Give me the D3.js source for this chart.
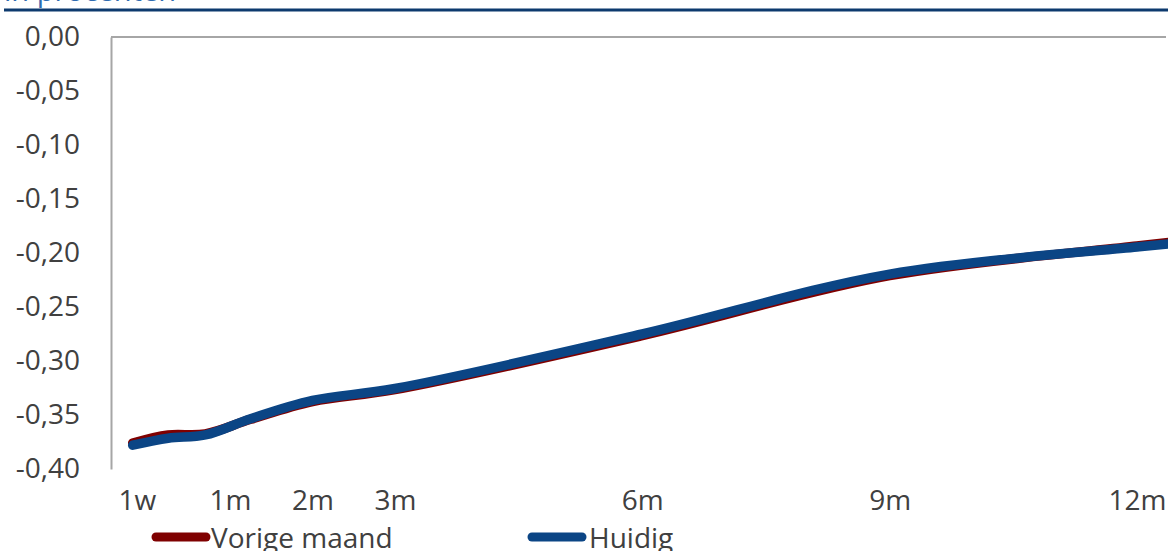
<!DOCTYPE html>
<html>
<head>
<meta charset="utf-8">
<script src="https://cdn.jsdelivr.net/npm/d3@7"></script>
<style>
  html, body { margin: 0; padding: 0; background: #ffffff; overflow: hidden; }
  svg { display: block; font-family: "Open Sans", "Noto Sans", sans-serif; }
</style>
</head>
<body>
<svg id="chart" width="1168" height="551"></svg>
<script>
// ---- data ----
const title = "in procenten";
const seriesNames = ["Vorige maand", "Huidig"];
// x-positions of the readings, in months on the tenor axis
const positions = [-0.18, 0.25, 0.70, 1.25, 2.0, 3.0, 6.0, 9.0, 12.0, 12.4];
const vorigeMaand = [-0.376, -0.3685, -0.3675, -0.3540, -0.3375, -0.3265, -0.2765, -0.2210, -0.1935, -0.1900];
const huidig      = [-0.378, -0.3715, -0.3685, -0.3535, -0.3365, -0.3255, -0.2750, -0.2195, -0.1945, -0.1915];
const tickLabels = ["1w", "1m", "2m", "3m", "6m", "9m", "12m"];
const tickPositions = [-0.13, 1, 2, 3, 6, 9, 12];
const yTicks = [0, -0.05, -0.10, -0.15, -0.20, -0.25, -0.30, -0.35, -0.40];

// ---- setup ----
const svg = d3.select("#chart");
const colors = { "Vorige maand": "#7f0000", "Huidig": "#0b4585" };
const textColor = "#404040";
const axisColor = "#a6a6a6";
const fontFamily = "Open Sans, Noto Sans, sans-serif";

const x = d3.scaleLinear().domain([1, 12]).range([230, 1137]);
const y = d3.scaleLinear().domain([-0.40, 0]).range([469, 37]);

const nl = d3.formatLocale({ decimal: ",", thousands: ".", grouping: [3], currency: ["€", ""], minus: "-" });
const fmt = nl.format(".2f");

// title (cut off at top) and rule
svg.append("text")
  .attr("x", 4).attr("y", 1)
  .attr("font-size", 29)
  .attr("fill", "#2e6bb0")
  .text(title);
svg.append("line")
  .attr("x1", 4).attr("x2", 1168)
  .attr("y1", 10).attr("y2", 10)
  .attr("stroke", "#0d3a6e").attr("stroke-width", 3);

// y axis
const yAxis = svg.append("g")
  .attr("transform", "translate(111,0)")
  .call(d3.axisLeft(y).tickValues(yTicks).tickFormat(d => fmt(d)).tickSize(0).tickPadding(31));
yAxis.select(".domain").attr("stroke", axisColor).attr("stroke-width", 2);
yAxis.selectAll("text")
  .attr("font-size", 28)
  .attr("fill", textColor)
  .attr("font-family", fontFamily);

// horizontal axis line at zero
svg.append("line")
  .attr("x1", 111).attr("x2", 1166)
  .attr("y1", y(0)).attr("y2", y(0))
  .attr("stroke", axisColor).attr("stroke-width", 2);

// x tick labels
const xAxis = svg.append("g")
  .attr("transform", `translate(0,${y(-0.40)})`)
  .call(d3.axisBottom(x).tickValues(tickPositions)
    .tickFormat((d, i) => tickLabels[i]).tickSize(0).tickPadding(21));
xAxis.select(".domain").remove();
xAxis.selectAll("text")
  .attr("font-size", 28)
  .attr("fill", textColor)
  .attr("font-family", fontFamily);

// lines
const line = d3.line()
  .x((d, i) => x(positions[i]))
  .y(d => y(d))
  .curve(d3.curveCatmullRom.alpha(0.5));

[["Vorige maand", vorigeMaand], ["Huidig", huidig]].forEach(([name, vals]) => {
  svg.append("path")
    .datum(vals)
    .attr("d", line)
    .attr("fill", "none")
    .attr("stroke", colors[name])
    .attr("stroke-width", 9.5)
    .attr("stroke-linecap", "round")
    .attr("stroke-linejoin", "round");
});

// legend
const legendItems = [
  { name: "Vorige maand", x: 156, tx: 211 },
  { name: "Huidig", x: 532, tx: 589 }
];
const lg = svg.append("g");
legendItems.forEach(it => {
  lg.append("line")
    .attr("x1", it.x).attr("x2", it.x + 50)
    .attr("y1", 537).attr("y2", 537)
    .attr("stroke", colors[it.name])
    .attr("stroke-width", 9)
    .attr("stroke-linecap", "round");
  lg.append("text")
    .attr("x", it.tx).attr("y", 548)
    .attr("font-size", 28)
    .attr("fill", textColor)
    .text(it.name);
});
</script>
</body>
</html>
